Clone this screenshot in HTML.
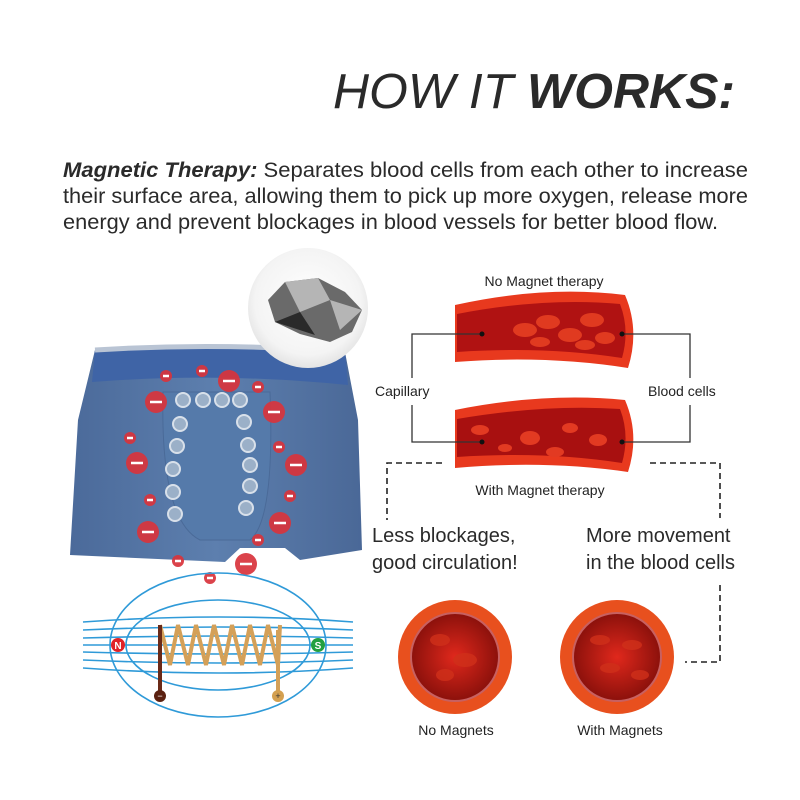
<!DOCTYPE html>
<html><head><meta charset="utf-8"><style>html,body{margin:0;padding:0;background:#fff}svg{display:block}</style></head>
<body>
<svg width="800" height="800" viewBox="0 0 800 800" xmlns="http://www.w3.org/2000/svg" font-family="Liberation Sans, sans-serif">
<defs>
<radialGradient id="bl" cx="50%" cy="50%" r="60%"><stop offset="0" stop-color="#e0281c"/><stop offset="1" stop-color="#7a0c08"/></radialGradient>
<linearGradient id="pant" x1="0" y1="0" x2="1" y2="0"><stop offset="0" stop-color="#4b6a9a"/><stop offset=".5" stop-color="#5d7fae"/><stop offset="1" stop-color="#4a6897"/></linearGradient>
<radialGradient id="rock" cx="50%" cy="45%" r="55%"><stop offset="0" stop-color="#fff"/><stop offset=".8" stop-color="#f4f4f4"/><stop offset="1" stop-color="#e4e4e4"/></radialGradient>
</defs>
<rect width="800" height="800" fill="#fff"/>
<text x="333" y="108" font-size="49" fill="#2a2a2a" font-style="italic" textLength="402" lengthAdjust="spacingAndGlyphs">HOW IT <tspan font-weight="bold">WORKS:</tspan></text>
<g font-size="21" fill="#2a2a2a">
<text x="63" y="177" textLength="685" lengthAdjust="spacingAndGlyphs"><tspan font-weight="bold" font-style="italic">Magnetic Therapy:</tspan> Separates blood cells from each other to increase</text>
<text x="63" y="203" textLength="685" lengthAdjust="spacingAndGlyphs">their surface area, allowing them to pick up more oxygen, release more</text>
<text x="63" y="229" textLength="655" lengthAdjust="spacingAndGlyphs">energy and prevent blockages in blood vessels for better blood flow.</text>
</g>
<!-- underwear -->
<path d="M95 350 Q220 338 345 352 L358 420 L362 550 L300 560 L285 548 L240 548 L225 562 L70 555 L78 420 Z" fill="url(#pant)"/>
<path d="M95 350 Q220 338 345 352 L348 385 Q220 372 92 382 Z" fill="#3f64a6"/>
<path d="M95 350 Q220 342 345 352" stroke="#b9c4d4" stroke-width="5" fill="none"/>
<path d="M163 392 Q160 520 200 540 L250 540 Q275 520 270 392 Z" fill="#557aaa" stroke="#4a6a98"/>
<g fill="#9bb0c8" stroke="#d8e0ea" stroke-width="2">
<circle cx="183" cy="400" r="7"/><circle cx="203" cy="400" r="7"/><circle cx="222" cy="400" r="7"/><circle cx="240" cy="400" r="7"/>
<circle cx="180" cy="424" r="7"/><circle cx="177" cy="446" r="7"/><circle cx="173" cy="469" r="7"/><circle cx="173" cy="492" r="7"/><circle cx="175" cy="514" r="7"/>
<circle cx="244" cy="422" r="7"/><circle cx="248" cy="445" r="7"/><circle cx="250" cy="465" r="7"/><circle cx="250" cy="486" r="7"/><circle cx="246" cy="508" r="7"/>
</g>
<g fill="#d9343c" opacity=".92">
<circle cx="166" cy="376" r="6"/><circle cx="202" cy="371" r="6"/><circle cx="229" cy="381" r="11"/><circle cx="258" cy="387" r="6"/>
<circle cx="156" cy="402" r="11"/><circle cx="274" cy="412" r="11"/><circle cx="130" cy="438" r="6"/><circle cx="279" cy="447" r="6"/>
<circle cx="137" cy="463" r="11"/><circle cx="296" cy="465" r="11"/><circle cx="150" cy="500" r="6"/><circle cx="290" cy="496" r="6"/>
<circle cx="148" cy="532" r="11"/><circle cx="280" cy="523" r="11"/><circle cx="258" cy="540" r="6"/><circle cx="178" cy="561" r="6"/><circle cx="246" cy="564" r="11"/><circle cx="210" cy="578" r="6"/>
</g>
<g stroke="#fff" stroke-width="2.5">
<path d="M163 376h6M199 371h6M223 381h12M255 387h6M150 402h12M268 412h12M127 438h6M276 447h6M131 463h12M290 465h12M147 500h6M287 496h6M142 532h12M274 523h12M255 540h6M175 561h6M240 564h12M207 578h6"/>
</g>
<!-- rock -->
<circle cx="308" cy="308" r="60" fill="url(#rock)"/>
<path d="M268 300 L285 282 L318 278 L345 292 L362 310 L352 332 L330 342 L300 334 L275 322 Z" fill="#6a6a6a"/>
<path d="M285 282 L318 278 L330 300 L300 312 Z M330 300 L362 310 L340 330 Z" fill="#b5b5b5"/>
<path d="M275 322 L300 312 L315 335 Z" fill="#2a2a2a"/>
<!-- coil field -->
<g stroke="#2f9ad8" stroke-width="1.6" fill="none">
<ellipse cx="218" cy="645" rx="108" ry="72"/>
<ellipse cx="218" cy="645" rx="92" ry="45"/>
<path d="M83 622 Q220 612 353 622 M83 630 Q220 624 353 630 M83 638 Q220 634 353 638 M83 645 L353 645 M83 652 Q220 656 353 652 M83 660 Q220 666 353 660 M83 668 Q220 678 353 668"/>
</g>
<g stroke="#d4a058" stroke-width="4" fill="none">
<path d="M160 625 L170 665 L178 625 L188 665 L196 625 L206 665 L214 625 L224 665 L232 625 L242 665 L250 625 L260 665 L268 625 L278 665 L280 625"/>
</g>
<path d="M160 625 L160 693" stroke="#6a2a18" stroke-width="4"/>
<path d="M278 630 L278 693" stroke="#d4a058" stroke-width="4"/>
<circle cx="160" cy="696" r="6" fill="#5a2010"/><circle cx="278" cy="696" r="6" fill="#d4a050"/>
<text x="160" y="699" font-size="9" fill="#fff" text-anchor="middle">−</text>
<text x="278" y="699" font-size="9" fill="#333" text-anchor="middle">+</text>
<circle cx="118" cy="645" r="7" fill="#e02228"/><text x="118" y="649" font-size="10" font-weight="bold" fill="#fff" text-anchor="middle">N</text>
<circle cx="318" cy="645" r="7" fill="#22a040"/><text x="318" y="649" font-size="10" font-weight="bold" fill="#fff" text-anchor="middle">S</text>
<!-- vessels -->
<g>
<path d="M455 305 Q545 285 625 295 Q640 330 628 368 Q545 355 455 362 Z" fill="#e8391e"/>
<path d="M457 314 Q545 297 620 304 Q630 330 622 358 Q545 346 457 352 Z" fill="#b01212"/>
<g fill="#e03a20"><ellipse cx="525" cy="330" rx="12" ry="7"/><ellipse cx="548" cy="322" rx="12" ry="7"/><ellipse cx="570" cy="335" rx="12" ry="7"/><ellipse cx="592" cy="320" rx="12" ry="7"/><ellipse cx="605" cy="338" rx="10" ry="6"/><ellipse cx="540" cy="342" rx="10" ry="5"/><ellipse cx="585" cy="345" rx="10" ry="5"/></g>
<path d="M455 410 Q545 392 625 400 Q640 435 628 472 Q545 460 455 468 Z" fill="#e8391e"/>
<path d="M457 419 Q545 404 620 409 Q630 435 622 463 Q545 451 457 457 Z" fill="#a81010"/>
<g fill="#e23a22"><ellipse cx="480" cy="430" rx="9" ry="5"/><ellipse cx="530" cy="438" rx="10" ry="7"/><ellipse cx="570" cy="428" rx="8" ry="5"/><ellipse cx="598" cy="440" rx="9" ry="6"/><ellipse cx="505" cy="448" rx="7" ry="4"/><ellipse cx="555" cy="452" rx="9" ry="5"/></g>
</g>
<g stroke="#333" stroke-width="1.3" fill="none">
<path d="M482 334 H412 V378 M412 405 V442 H482"/>
<path d="M622 334 H690 V378 M690 405 V442 H622"/>
</g>
<circle cx="482" cy="334" r="2.5" fill="#111"/><circle cx="482" cy="442" r="2.5" fill="#111"/><circle cx="622" cy="334" r="2.5" fill="#111"/><circle cx="622" cy="442" r="2.5" fill="#111"/>
<g font-size="14" fill="#222">
<text x="544" y="286" text-anchor="middle">No Magnet therapy</text>
<text x="375" y="396">Capillary</text>
<text x="648" y="396">Blood cells</text>
<text x="540" y="495" text-anchor="middle">With Magnet therapy</text>
<text x="456" y="735" text-anchor="middle">No Magnets</text>
<text x="620" y="735" text-anchor="middle">With Magnets</text>
</g>
<g stroke="#222" stroke-width="1.6" fill="none" stroke-dasharray="6,4">
<path d="M442 463 H387 V520"/>
<path d="M650 463 H720 V518"/>
<path d="M720 585 V662 H685"/>
</g>
<g font-size="20" fill="#2a2a2a">
<text x="372" y="542">Less blockages,</text>
<text x="372" y="569">good circulation!</text>
<text x="586" y="542">More movement</text>
<text x="586" y="569">in the blood cells</text>
</g>
<circle cx="455" cy="657" r="57" fill="#e8501e"/><circle cx="455" cy="657" r="44" fill="url(#bl)" stroke="#c86060" stroke-width="2"/>
<circle cx="617" cy="657" r="57" fill="#e8501e"/><circle cx="617" cy="657" r="44" fill="url(#bl)" stroke="#c86060" stroke-width="2"/>
<g fill="#d0301a" opacity=".8"><ellipse cx="440" cy="640" rx="10" ry="6"/><ellipse cx="465" cy="660" rx="12" ry="7"/><ellipse cx="445" cy="675" rx="9" ry="6"/>
<ellipse cx="600" cy="640" rx="10" ry="5"/><ellipse cx="632" cy="645" rx="10" ry="5"/><ellipse cx="610" cy="668" rx="10" ry="5"/><ellipse cx="640" cy="675" rx="9" ry="5"/></g>
</svg>
</body></html>
